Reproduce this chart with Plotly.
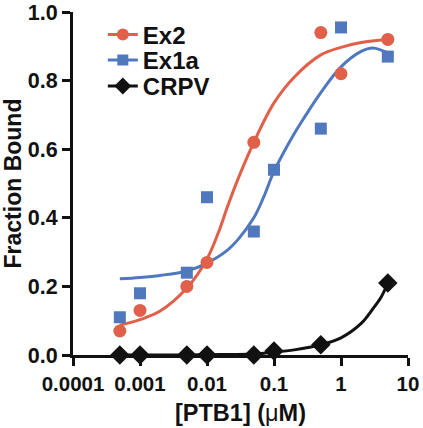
import plotly.graph_objects as go

# Measured data
ex2_x = [0.0005, 0.001, 0.005, 0.01, 0.05, 0.5, 1, 5]
ex2_y = [0.07, 0.13, 0.20, 0.27, 0.62, 0.94, 0.82, 0.92]
ex1a_x = [0.0005, 0.001, 0.005, 0.01, 0.05, 0.1, 0.5, 1, 5]
ex1a_y = [0.11, 0.18, 0.24, 0.46, 0.36, 0.54, 0.66, 0.955, 0.87]
crpv_x = [0.0005, 0.001, 0.005, 0.01, 0.05, 0.1, 0.5, 5]
crpv_y = [0.0, 0.0, 0.0, 0.0, 0.0, 0.012, 0.03, 0.21]

# Fitted curves
ex2_fit_x = [0.0005, 0.001, 0.002, 0.005, 0.01, 0.015, 0.02, 0.03, 0.05, 0.1, 0.2, 0.5, 1, 2, 5]
ex2_fit = [0.087, 0.103, 0.128, 0.195, 0.28, 0.36, 0.43, 0.52, 0.62, 0.735, 0.81, 0.875, 0.897, 0.911, 0.92]
ex1a_fit_x = [0.0005, 0.001, 0.002, 0.005, 0.01, 0.02, 0.03, 0.05, 0.07, 0.1, 0.2, 0.3, 0.5, 1, 2, 3, 5]
ex1a_fit = [0.222, 0.226, 0.232, 0.245, 0.268, 0.305, 0.34, 0.40, 0.46, 0.535, 0.645, 0.70, 0.765, 0.84, 0.885, 0.895, 0.88]
crpv_fit_x = [0.0005, 0.001, 0.005, 0.01, 0.05, 0.1, 0.2, 0.5, 1, 2, 3, 4, 5]
crpv_fit = [0.0, 0.0, 0.0, 0.001, 0.003, 0.008, 0.015, 0.03, 0.05, 0.092, 0.135, 0.17, 0.21]

x_ticks = [0.0001, 0.001, 0.01, 0.1, 1, 10]
x_tick_text = ["0.0001", "0.001", "0.01", "0.1", "1", "10"]
y_ticks = [0.0, 0.2, 0.4, 0.6, 0.8, 1.0]

RED = "#E0604A"
BLUE = "#4F78BF"
BLACK = "#111111"
FONT = "Liberation Sans"

fig = go.Figure()

# fitted lines
fig.add_trace(go.Scatter(x=ex2_fit_x, y=ex2_fit, mode="lines", line=dict(color=RED, width=3, shape="spline", smoothing=1.0),
                         showlegend=False, hoverinfo="skip"))
fig.add_trace(go.Scatter(x=ex1a_fit_x, y=ex1a_fit, mode="lines", line=dict(color=BLUE, width=3, shape="spline", smoothing=1.0),
                         showlegend=False, hoverinfo="skip"))
fig.add_trace(go.Scatter(x=crpv_fit_x, y=crpv_fit, mode="lines", line=dict(color=BLACK, width=3, shape="spline"),
                         showlegend=False, hoverinfo="skip"))

# data points
fig.add_trace(go.Scatter(x=ex2_x, y=ex2_y, mode="markers", marker=dict(symbol="circle", size=13, color=RED),
                         showlegend=False, cliponaxis=False))
fig.add_trace(go.Scatter(x=ex1a_x, y=ex1a_y, mode="markers", marker=dict(symbol="square", size=12, color=BLUE),
                         showlegend=False, cliponaxis=False))
fig.add_trace(go.Scatter(x=crpv_x, y=crpv_y, mode="markers", marker=dict(symbol="diamond", size=15, color=BLACK),
                         showlegend=False, cliponaxis=False))

# legend entries, one small legend each for exact placement
legend_specs = [("Ex2", RED, "circle", 12, "legend", 0.933),
                ("Ex1a", BLUE, "square", 11, "legend2", 0.859),
                ("CRPV", BLACK, "diamond", 13, "legend3", 0.783)]
legend_layout = {}
for name, col, sym, sz, lg, ly in legend_specs:
    fig.add_trace(go.Scatter(x=[None], y=[None], mode="lines+markers", name=name, legend=lg,
                             line=dict(color=col, width=3), marker=dict(symbol=sym, size=sz, color=col)))
    legend_layout[lg] = dict(x=0.089, y=ly, xanchor="left", yanchor="middle", bgcolor="rgba(0,0,0,0)",
                             font=dict(size=24, family=FONT, weight="bold", color=BLACK), itemwidth=30)

fig.update_layout(
    width=423, height=428,
    margin=dict(l=73, r=15, t=12, b=73),
    paper_bgcolor="white", plot_bgcolor="white",
    font=dict(family=FONT, color=BLACK),
    showlegend=True,
    xaxis=dict(type="log", range=[-4, 1], tickvals=x_ticks, ticktext=x_tick_text, automargin=False,
               ticklabeloverflow="allow",
               showgrid=False, zeroline=False, showline=True, linecolor=BLACK, linewidth=3,
               ticks="outside", ticklen=8, tickwidth=3, tickcolor=BLACK,
               tickfont=dict(size=20.5, family=FONT, weight="bold"),
               title=dict(text="<b>[PTB1] (</b>μ<b>M)</b>", font=dict(size=23.5, family=FONT), standoff=11)),
    yaxis=dict(range=[0, 1], tickvals=y_ticks, tickformat=".1f", automargin=False,
               ticklabeloverflow="allow",
               showgrid=False, zeroline=False, showline=True, linecolor=BLACK, linewidth=3,
               ticks="outside", ticklen=8, tickwidth=3, tickcolor=BLACK,
               tickfont=dict(size=21.5, family=FONT, weight="bold"),
               title=dict(text="<b>Fraction Bound</b>", font=dict(size=23, family=FONT), standoff=10)),
    **legend_layout,
)

# remove the default 8px page margin so the figure fills the window exactly
fig.write_html("out.html", config={"displayModeBar": False},
               post_script="document.body.style.margin='0';")
